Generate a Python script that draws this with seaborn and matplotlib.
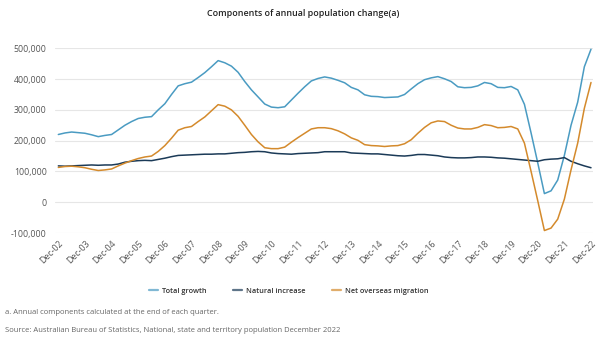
import numpy as np
import pandas as pd
import matplotlib
matplotlib.use("Agg")
import matplotlib.pyplot as plt
import seaborn as sns
from matplotlib.lines import Line2D

# Quarterly, Dec-02 .. Dec-22 (thousands of persons, annual components)
total_growth = [220, 225, 228, 226, 224, 219, 213, 217, 220, 235, 250, 262, 272, 276, 278, 300,
                320, 350, 378, 385, 390, 405, 421, 440, 460, 453, 442, 422, 392, 365, 342, 319,
                309, 307, 310, 332, 354, 375, 394, 402, 407, 403, 396, 388, 373, 365, 349, 344,
                343, 340, 341, 342, 350, 368, 385, 398, 404, 408, 401, 392, 375, 372, 373, 378,
                389, 385, 373, 372, 376, 365, 318, 225, 128, 28, 37, 72, 152, 250, 325, 440, 497]
natural_increase = [118, 117, 118, 119, 120, 121, 120, 121, 121, 124, 130, 133, 135, 136, 135, 139,
                    143, 148, 152, 153, 154, 155, 156, 156, 157, 157, 159, 161, 162, 164, 165, 164,
                    160, 158, 157, 156, 158, 159, 160, 161, 164, 164, 164, 164, 160, 159, 158, 157,
                    157, 155, 153, 151, 150, 152, 155, 155, 153, 151, 147, 145, 144, 144, 145, 147,
                    147, 146, 144, 143, 141, 139, 137, 135, 133, 138, 140, 141, 145, 133, 125, 118, 112]
net_overseas = [113, 116, 117, 115, 112, 107, 103, 105, 108, 118, 127, 135, 142, 147, 150, 165,
                184, 208, 234, 242, 246, 262, 277, 297, 317, 312, 300, 279, 250, 220, 196, 177,
                174, 174, 179, 195, 210, 224, 238, 242, 242, 239, 232, 222, 209, 201, 187, 184,
                183, 181, 183, 184, 190, 203, 224, 243, 258, 264, 262, 250, 241, 238, 238, 243,
                252, 249, 242, 243, 246, 238, 192, 100, 5, -92, -84, -55, 10, 105, 192, 305, 389]
tick_labels = ["Dec-%02d" % y for y in range(2, 23)]
series_names = ["Total growth", "Natural increase", "Net overseas migration"]
colors = ["#4A9BC2", "#1B3A57", "#D48A2C"]

n = len(total_growth)
rows = []
for name, vals in zip(series_names, [total_growth, natural_increase, net_overseas]):
    for i, v in enumerate(vals):
        rows.append({"quarter": i, "value": v * 1000, "series": name})
df = pd.DataFrame(rows)

sns.set_style("white")
plt.rcParams["font.family"] = ["Open Sans", "DejaVu Sans"]

fig = plt.figure(figsize=(6, 3.45), dpi=100)
ax = fig.add_axes([55 / 600, 1 - 233 / 345, 538 / 600, (233 - 48.3) / 345])

sns.lineplot(data=df, x="quarter", y="value", hue="series", hue_order=series_names,
             palette=colors, linewidth=1.1, ax=ax, legend=False)

ax.set_xlim(-0.5, n - 1 + 0.3)
ax.set_ylim(-100000, 500000)
yt = np.arange(-100000, 500001, 100000)
ax.set_yticks(yt)
ax.set_yticklabels([f"{int(v):,}" for v in yt])
ax.set_xticks(np.arange(0, n, 4))
ax.set_xticklabels(tick_labels, rotation=45, ha="right", rotation_mode="anchor")
ax.tick_params(axis="both", length=0, labelsize=6.3, colors="#555555")
ax.tick_params(axis="x", pad=4)
ax.tick_params(axis="y", pad=6)
ax.grid(axis="y", color="#e6e6e6", linewidth=0.8)
ax.grid(axis="x", visible=False)
for s in ax.spines.values():
    s.set_visible(False)
ax.set_xlabel("")
ax.set_ylabel("")

fig.text(0.505, 1 - 14 / 345, "Components of annual population change(a)", ha="center", va="center",
         fontsize=6.4, fontweight="semibold", color="#222222")

handles = [Line2D([], [], color=c, linewidth=1.6, alpha=0.7) for c in colors]
leg = fig.legend(handles, series_names, loc="center", bbox_to_anchor=(289 / 600, 1 - 291 / 345),
                 ncol=3, frameon=False, fontsize=5.3, handlelength=1.2, handletextpad=0.55,
                 columnspacing=3.6)
for t in leg.get_texts():
    t.set_color("#333333")
    t.set_fontweight("semibold")

fig.text(5 / 600, 1 - 312 / 345, "a. Annual components calculated at the end of each quarter.",
         ha="left", va="center", fontsize=5.5, color="#666666")
fig.text(5 / 600, 1 - 331 / 345,
         "Source: Australian Bureau of Statistics, National, state and territory population December 2022",
         ha="left", va="center", fontsize=5.5, color="#666666")

fig.savefig("out.png", dpi=100)
